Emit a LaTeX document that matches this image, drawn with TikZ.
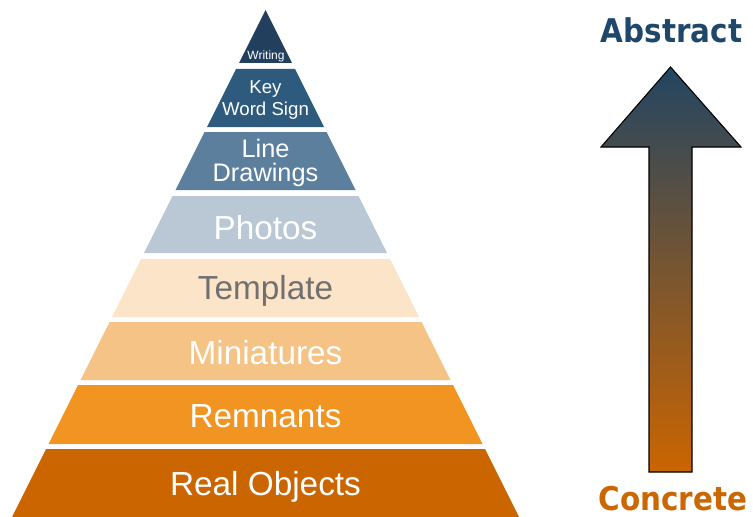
\documentclass[tikz,border=0pt]{standalone}
\usepackage{fontspec}
\setmainfont{Liberation Sans}
\newfontfamily\absfont{DejaVu Sans Condensed}
\definecolor{cWriting}{HTML}{22405E}
\definecolor{cKey}{HTML}{2D5A7D}
\definecolor{cLine}{HTML}{5B7F9D}
\definecolor{cPhotos}{HTML}{B9C8D4}
\definecolor{cTemplate}{HTML}{FCE4C9}
\definecolor{cMini}{HTML}{F6C386}
\definecolor{cRemn}{HTML}{F19421}
\definecolor{cReal}{HTML}{CB6500}
\definecolor{cTempText}{HTML}{707070}
\definecolor{cAbs}{HTML}{1F4769}
\definecolor{cConc}{HTML}{CC6600}
\definecolor{cArrTop}{HTML}{234562}
\begin{document}
\begin{tikzpicture}[x=0.75pt,y=-0.75pt,
  lbl/.style={text=white,align=center,inner sep=0pt,font=\fontsize{25}{27}\selectfont},
  endlbl/.style={font=\absfont\bfseries\fontsize{24.5}{26}\selectfont,inner sep=0pt,anchor=base}]
\useasboundingbox (0,0) rectangle (753,517);
% pyramid layers (centre x = 265.5)
\fill[cWriting] (265.5,10) -- (292,63) -- (239,63) -- cycle;
\fill[cKey] (236,69) -- (295,69) -- (324,127) -- (207,127) -- cycle;
\fill[cLine] (204.5,132) -- (326.5,132) -- (355.5,190) -- (175.5,190) -- cycle;
\fill[cPhotos] (172.5,196) -- (358.5,196) -- (387,253) -- (144,253) -- cycle;
\fill[cTemplate] (141,259) -- (390,259) -- (419,317) -- (112,317) -- cycle;
\fill[cMini] (109.5,322) -- (421.5,322) -- (450.5,380) -- (80.5,380) -- cycle;
\fill[cRemn] (78,385) -- (453,385) -- (482.5,444) -- (48.5,444) -- cycle;
\fill[cReal] (46,449) -- (485,449) -- (519,517) -- (12,517) -- cycle;
% labels
\node[lbl,font=\fontsize{9}{10}\selectfont] (writing) at (266,56) {Writing};
\node[lbl,font=\fontsize{14}{16.5}\selectfont] (key) at (265.5,100) {Key\\Word Sign};
\node[lbl,font=\fontsize{19}{18}\selectfont] (line) at (265.5,163) {Line\\Drawings};
\node[lbl] (photos) at (265.5,228) {Photos};
\node[lbl,text=cTempText] (template) at (265.5,291) {Template};
\node[lbl] (mini) at (265.5,353) {Miniatures};
\node[lbl] (remn) at (265.5,416) {Remnants};
\node[lbl] (real) at (265.5,487) {Real Objects};
% arrow
\shadedraw[top color=cArrTop,bottom color=cReal,draw=black,line width=0.8pt]
  (670.5,67) -- (741,147) -- (692,147) -- (692,472) -- (649,472) -- (649,147) -- (601,147) -- cycle;
\node[endlbl,text=cAbs] (abstract) at (671.5,43) {Abstract};
\node[endlbl,text=cConc] (concrete) at (673,510) {Concrete};
\end{tikzpicture}
\end{document}
